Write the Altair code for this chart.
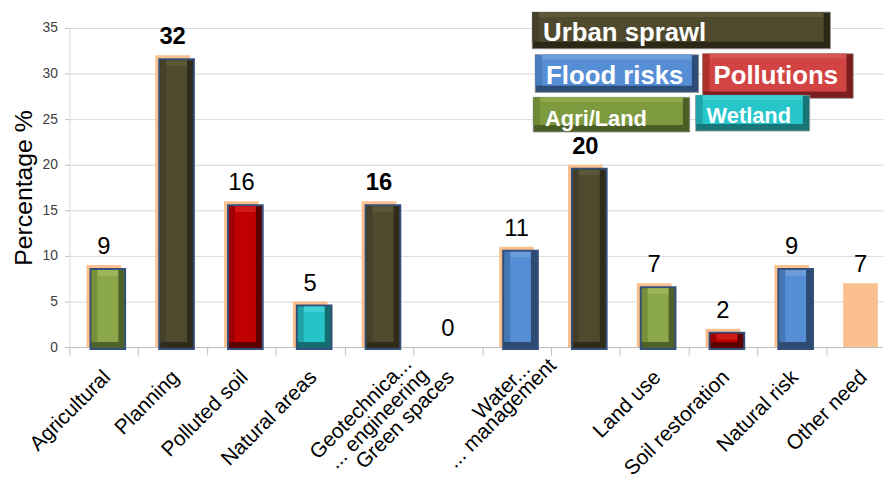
import json
import altair as alt
import pandas as pd

# ---------------- data ----------------
categories = ["Agricultural", "Planning", "Polluted soil", "Natural areas",
              "Geotechnical engineering", "Green spaces", "Water management", "",
              "Land use", "Soil restoration", "Natural risk", "Other need"]
values = [9, 32, 16, 5, 16, 0, 11, 20, 7, 2, 9, 7]
groups = ["Agri/Land", "Urban sprawl", "Pollutions", "Wetland", "Urban sprawl", "None",
          "Flood risks", "Urban sprawl", "Agri/Land", "Pollutions", "Flood risks", "None"]
legend_labels = ["Urban sprawl", "Flood risks", "Pollutions", "Agri/Land", "Wetland"]
# two-line tick labels (category index, line text)
multi_idx = [4, 4, 6, 6]
multi_text = ["Geotechnica...", "... engineering", "Water...", "... management"]

# ---------------- style / layout ----------------
single_labels = ["Agricultural", "Planning", "Polluted soil", "Natural areas", "",
                 "Green spaces", "", "", "Land use", "Soil restoration",
                 "Natural risk", "Other need"]
multi_shift = [(28, 10), (32, 30), (11, 0), (32, 16)]   # (dx, dy) in rotated frame
FONT = "Liberation Sans"
PEACH = "#FAC090"
BORDER = "#34507A"
bar_face = {"Urban sprawl": "#4F4A2E", "Flood risks": "#558ED5", "Pollutions": "#C00000",
            "Agri/Land": "#8AA84A", "Wetland": "#26C4C8"}
bar_dark = {"Urban sprawl": "#2F2C1B", "Flood risks": "#2D4A72", "Pollutions": "#5E0000",
            "Agri/Land": "#4E6128", "Wetland": "#146E71"}
bar_mid = {"Urban sprawl": "#454029", "Flood risks": "#4677B5", "Pollutions": "#A00000",
           "Agri/Land": "#76903C", "Wetland": "#1FA3A7"}
bar_light = {"Urban sprawl": "#5B5636", "Flood risks": "#6A9BDA", "Pollutions": "#D01A1A",
             "Agri/Land": "#9BB65A", "Wetland": "#3ED0D4"}

leg_face = ["#4F4A2E", "#558ED5", "#D24343", "#7E9A3F", "#26C6CB"]
leg_dark = ["#2B2818", "#2E4C78", "#7A1E1E", "#4B5E25", "#167678"]
leg_mid = ["#454029", "#4A7DBF", "#B03030", "#6F8A36", "#1FA5A9"]
leg_light = ["#5E5838", "#6A9DDC", "#DA5555", "#8FAA4E", "#3FD0D4"]
leg_box = [(467, 768, -16, 21), (470, 635, 27, 65), (639, 791, 26, 71),
           (468, 626, 70, 105), (632, 747, 68, 104)]
leg_text = [(478, 13), (481, 57), (650, 57), (480, 99), (643, 96)]
leg_size = [26, 26, 26, 22, 22]

W, H = 821, 322
XFS = 21
TICK = 8
LPAD = 19
LOFF = 3

# ---------------- tables ----------------
df = pd.DataFrame({"idx": list(range(len(values))), "cat": categories,
                   "value": values, "group": groups})
df["bold"] = df["group"] == "Urban sprawl"
col = df[df["group"] != "None"].copy()
col["c_face"] = col["group"].map(bar_face)
col["c_dark"] = col["group"].map(bar_dark)
col["c_mid"] = col["group"].map(bar_mid)
col["c_light"] = col["group"].map(bar_light)

ml = pd.DataFrame({"idx": multi_idx, "line": multi_text, "k": list(range(len(multi_idx)))})

leg = pd.DataFrame({
    "label": legend_labels,
    "x1": [b[0] for b in leg_box], "x2": [b[1] for b in leg_box],
    "y1": [b[2] for b in leg_box], "y2": [b[3] for b in leg_box],
    "tx": [t[0] for t in leg_text], "ty": [t[1] for t in leg_text],
    "fs": leg_size, "face": leg_face, "dark": leg_dark, "mid": leg_mid, "light": leg_light,
})

# ---------------- encodings ----------------
label_js = json.dumps(single_labels)
X = alt.X("idx:O",
          scale=alt.Scale(range=[0, 833], paddingInner=0, paddingOuter=0),
          axis=alt.Axis(title=None, labelExpr=f"{label_js}[datum.value]",
                        labelAngle=315, labelAlign="right", labelBaseline="middle",
                        labelFont=FONT, labelFontSize=XFS, labelColor="#000000",
                        labelPadding=LPAD, labelOffset=LOFF,
                        tickBand="extent", ticks=True, tickSize=TICK,
                        tickColor="#BFBFBF", domainColor="#BFBFBF", grid=False,
                        labelOverlap=False, labelLimit=0))
Y = alt.Y("value:Q",
          scale=alt.Scale(domain=[0, 35], nice=False, zero=True),
          axis=alt.Axis(values=[0, 5, 10, 15, 20, 25, 30, 35], title="Percentage %",
                        titleFont=FONT, titleFontSize=25, titleFontWeight="normal",
                        titleColor="#000000", titleAngle=270, titleX=-46, titleY=H / 2,
                        titleAlign="center", titleBaseline="middle",
                        labelFont=FONT, labelFontSize=14, labelColor="#404040",
                        labelPadding=7, tickSize=5, tickColor="#BFBFBF",
                        domainColor="#D9D9D9", gridColor="#D9D9D9", grid=True))

base = alt.Chart(df)
bc = alt.Chart(col)

peach = base.mark_bar(width=35, color=PEACH).encode(x=X, y=Y, y2=alt.datum(0))
outer = bc.mark_bar(width=37, xOffset=4, yOffset=3, y2Offset=3, color=BORDER).encode(
    x=X, y=Y, y2=alt.datum(0))
dark = bc.mark_bar(width=33, xOffset=4, yOffset=5, y2Offset=1).encode(
    x=X, y=Y, y2=alt.datum(0), color=alt.Color("c_dark:N", scale=None))
mid = bc.mark_bar(width=27, xOffset=1, yOffset=5, y2Offset=-5).encode(
    x=X, y=Y, y2=alt.datum(0), color=alt.Color("c_mid:N", scale=None))
light = bc.mark_bar(width=21, xOffset=4, yOffset=5, y2Offset=11).encode(
    x=X, y=Y, y2=alt.Y2("value"), color=alt.Color("c_light:N", scale=None))
face = bc.mark_bar(width=21, xOffset=4, yOffset=11, y2Offset=-5).encode(
    x=X, y=Y, y2=alt.datum(0), color=alt.Color("c_face:N", scale=None))

txt_norm = base.transform_filter("!datum.bold").mark_text(
    font=FONT, fontSize=24, dy=-11, baseline="alphabetic", color="#000000"
).encode(x=X, y=Y, text=alt.Text("value:Q"))
txt_bold = base.transform_filter("datum.bold").mark_text(
    font=FONT, fontSize=24, fontWeight="bold", dy=-11, baseline="alphabetic", color="#000000"
).encode(x=X, y=Y, text=alt.Text("value:Q"))

multi_layers = []
for k, (ddx, ddy) in enumerate(multi_shift):
    multi_layers.append(
        alt.Chart(ml).transform_filter(f"datum.k == {k}").mark_text(
            font=FONT, fontSize=XFS, angle=315, align="right", baseline="middle",
            color="#000000", dx=ddx, dy=ddy, xOffset=LOFF
        ).encode(x=X, y=alt.value(H + TICK + LPAD), text="line:N")
    )

bars = alt.layer(peach, outer, dark, mid, light, face, txt_norm, txt_bold, *multi_layers)

# ---------------- legend boxes ----------------
lb = alt.Chart(leg).transform_calculate(
    xi1="datum.x1 + 7", xi2="datum.x2 - 7", yt="datum.y1 + 5", yb="datum.y2 - 7")
PX = dict(scale=None, axis=None)
l_dark = lb.mark_rect(stroke="#9A9A9A", strokeWidth=0.8).encode(
    x=alt.X("x1:Q", **PX), x2="x2:Q", y=alt.Y("y1:Q", **PX), y2="y2:Q",
    color=alt.Color("dark:N", scale=None))
l_mid = lb.mark_rect().encode(
    x=alt.X("x1:Q", **PX), x2="xi2:Q", y=alt.Y("y1:Q", **PX), y2="yb:Q",
    color=alt.Color("mid:N", scale=None))
l_light = lb.mark_rect().encode(
    x=alt.X("xi1:Q", **PX), x2="xi2:Q", y=alt.Y("y1:Q", **PX), y2="yt:Q",
    color=alt.Color("light:N", scale=None))
l_face = lb.mark_rect().encode(
    x=alt.X("xi1:Q", **PX), x2="xi2:Q", y=alt.Y("yt:Q", **PX), y2="yb:Q",
    color=alt.Color("face:N", scale=None))
l_text = lb.mark_text(font=FONT, fontWeight="bold", align="left", baseline="alphabetic",
                      color="#FFFFFF").encode(
    x=alt.X("tx:Q", **PX), y=alt.Y("ty:Q", **PX), text="label:N",
    size=alt.Size("fs:Q", scale=None))
legend = alt.layer(l_dark, l_mid, l_light, l_face, l_text)

chart = alt.layer(bars, legend).resolve_scale(x="independent", y="independent").properties(
    width=W, height=H,
    autosize=alt.AutoSizeParams(type="none"),
    padding={"left": 62, "top": 18, "right": 0, "bottom": 132},
    background="#FFFFFF",
).configure_view(stroke=None)

chart.save("out.html", embed_options={"renderer": "svg", "actions": False})
